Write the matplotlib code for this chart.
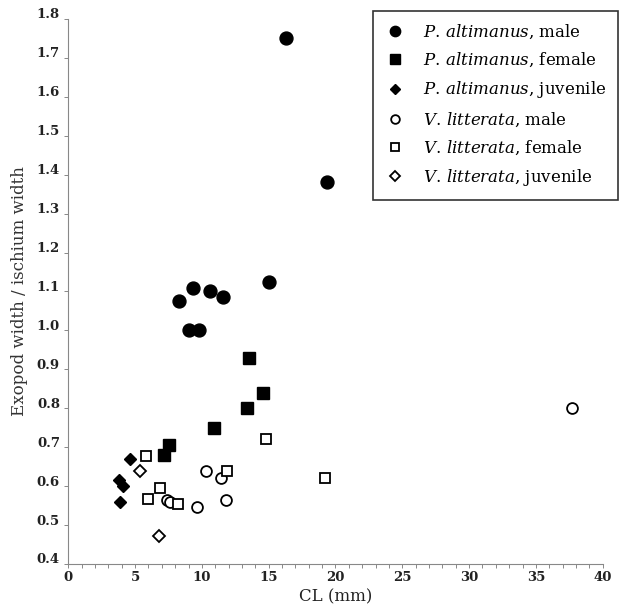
from matplotlib import pyplot as plt
from matplotlib.ticker import MultipleLocator
from matplotlib.transforms import ScaledTranslation

# values: CL (mm) and exopod/ischium width ratio
pa_male_cl = [16.3, 19.4, 15.0, 9.3, 10.6, 8.3, 11.6, 9.0, 9.8]
pa_male_ratio = [1.75, 1.38, 1.125, 1.11, 1.10, 1.075, 1.085, 1.0, 1.0]

pa_female_cl = [13.5, 14.6, 13.4, 10.9, 7.5, 7.2]
pa_female_ratio = [0.93, 0.84, 0.80, 0.75, 0.705, 0.68]

pa_juv_cl = [4.6, 3.8, 4.1, 3.9]
pa_juv_ratio = [0.67, 0.615, 0.60, 0.558]

vl_male_cl = [10.3, 11.4, 7.4, 7.6, 9.6, 11.8, 37.7]
vl_male_ratio = [0.638, 0.62, 0.565, 0.56, 0.547, 0.565, 0.80]

vl_female_cl = [5.8, 11.9, 14.8, 19.2, 6.9, 6.0, 8.2]
vl_female_ratio = [0.677, 0.64, 0.72, 0.62, 0.595, 0.566, 0.553]

vl_juv_cl = [5.4, 6.8]
vl_juv_ratio = [0.64, 0.473]

labels = [r'$\mathit{P.\,altimanus}$, male',
          r'$\mathit{P.\,altimanus}$, female',
          r'$\mathit{P.\,altimanus}$, juvenile',
          r'$\mathit{V.\,litterata}$, male',
          r'$\mathit{V.\,litterata}$, female',
          r'$\mathit{V.\,litterata}$, juvenile']

plt.rcParams['font.family'] = 'DejaVu Serif'
plt.rcParams['mathtext.fontset'] = 'dejavuserif'

fig = plt.figure(figsize=(6.21, 6.10), dpi=100)
ax = fig.add_axes([0.110, 0.0754, 0.8605, 0.8935])

ax.plot(pa_male_cl, pa_male_ratio, 'o', color='black', ms=9.3, label=labels[0])
ax.plot(pa_female_cl, pa_female_ratio, 's', color='black', ms=8.2, label=labels[1])
ax.plot(pa_juv_cl, pa_juv_ratio, 'D', color='black', ms=6.4, label=labels[2])
ax.plot(vl_male_cl, vl_male_ratio, 'o', mfc='white', mec='black', mew=1.3, ms=7.8, label=labels[3])
ax.plot(vl_female_cl, vl_female_ratio, 's', mfc='white', mec='black', mew=1.3, ms=7.4, label=labels[4])
ax.plot(vl_juv_cl, vl_juv_ratio, 'D', mfc='white', mec='black', mew=1.3, ms=5.8, label=labels[5])

ax.set_xlim(0, 40)
ax.set_ylim(0.4, 1.8)
ax.xaxis.set_major_locator(MultipleLocator(5))
ax.xaxis.set_minor_locator(MultipleLocator(1))
ax.yaxis.set_major_locator(MultipleLocator(0.1))
ax.yaxis.set_major_formatter(plt.FuncFormatter(lambda v, p: '%.1f' % v))

ax.spines['top'].set_visible(False)
ax.spines['right'].set_visible(False)
for s in ['left', 'bottom']:
    ax.spines[s].set_color('#888888')
    ax.spines[s].set_linewidth(0.8)
ax.tick_params(which='both', direction='out', length=3, width=0.7, color='#888888',
               labelsize=9.5, labelcolor='#222222')
ax.tick_params(axis='x', pad=2)
ax.tick_params(axis='y', pad=3)
up = ScaledTranslation(0, 4 / 72, fig.dpi_scale_trans)
for t in ax.get_yticklabels():
    t.set_transform(t.get_transform() + up)
for t in ax.get_xticklabels() + ax.get_yticklabels():
    t.set_fontweight('bold')

ax.set_xlabel('CL (mm)', fontsize=12, color='#222222', labelpad=3)
ax.set_ylabel('Exopod width / ischium width', fontsize=12, color='#333333', labelpad=6)

leg = ax.legend(loc='upper left', bbox_to_anchor=(373 / 621, 1 - 11 / 610),
                bbox_transform=fig.transFigure, borderaxespad=0,
                frameon=True, fancybox=False, fontsize=12, markerscale=0.8,
                handletextpad=1.1, labelspacing=0.6, borderpad=0.7, handlelength=1.2)
leg.get_frame().set_edgecolor('black')
leg.get_frame().set_linewidth(1.2)

fig.savefig('out.png', dpi=100)
